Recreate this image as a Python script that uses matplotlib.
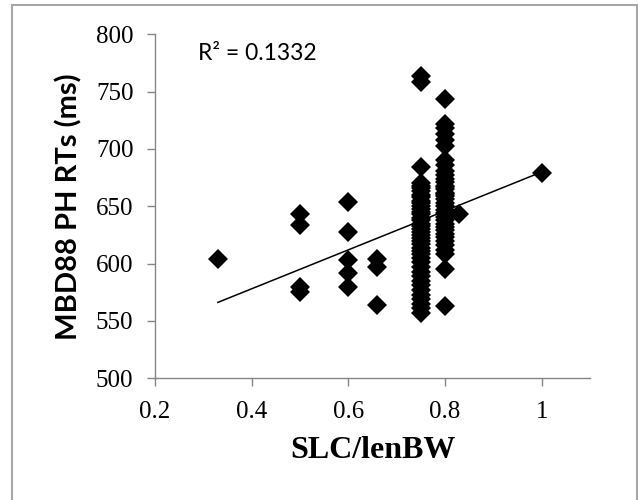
import numpy as np
import matplotlib
matplotlib.use("Agg")
import matplotlib.pyplot as plt
from matplotlib.patches import Rectangle
from matplotlib.ticker import FuncFormatter

# SLC/lenBW values and their RTs
x_033 = [0.33]
y_033 = [604]
x_050 = [0.5] * 4
y_050 = [643, 634, 580, 575]
x_060 = [0.6] * 5
y_060 = [654, 628, 603, 592, 580]
x_066 = [0.66] * 3
y_066 = [604, 597, 564]
y_075 = [764, 758, 684,
         670, 668, 666, 663, 660, 658, 655, 653, 650, 648,
         645, 643, 640, 638, 635, 633, 630, 628, 625, 622,
         620, 617, 614, 611, 608, 605, 601, 597, 593, 589,
         585, 581, 577, 573, 569, 565, 561, 557]
x_075 = [0.75] * len(y_075)
y_080 = [744, 722, 718, 713, 708, 703, 690, 686, 681,
         677, 674, 671, 668, 667, 665, 662, 661, 659, 656, 653, 650,
         647, 644, 641, 638, 635, 632, 629, 626, 623, 620,
         616, 612, 608, 595, 563]
x_080 = [0.8] * len(y_080)
x_083 = [0.83]
y_083 = [643]
x_100 = [1.0]
y_100 = [679]

r2_text = "R² = 0.1332"
xlab = "SLC/lenBW"
ylab = "MBD88 PH RTs (ms)"

x = np.array(x_033 + x_050 + x_060 + x_066 + x_075 + x_080 + x_083 + x_100)
y = np.array(y_033 + y_050 + y_060 + y_066 + y_075 + y_080 + y_083 + y_100)

fig = plt.figure(figsize=(6.38, 5.0), dpi=100)
ax = fig.add_axes([155 / 638, 1 - 378.3 / 500, 435 / 638, 344 / 500])

ax.plot(x, y, linestyle="none", marker="D", markersize=10,
        markerfacecolor="black", markeredgewidth=0, color="black", zorder=2)

# linear trendline
slope, icpt = np.polyfit(x, y, 1)
xs = np.array([x.min(), x.max()])
ax.plot(xs, slope * xs + icpt, color="black", linewidth=1.1, zorder=3)

ax.set_xlim(0.2, 1.1)
ax.set_ylim(500, 800)
ax.set_xticks([0.2, 0.4, 0.6, 0.8, 1.0])
ax.set_yticks(np.arange(500, 801, 50))
ax.xaxis.set_major_formatter(FuncFormatter(lambda v, p: "%g" % v))

for s in ["top", "right"]:
    ax.spines[s].set_visible(False)
for s in ["left", "bottom"]:
    ax.spines[s].set_color("#868686")
    ax.spines[s].set_linewidth(1.0)

ax.tick_params(axis="both", direction="out", length=5.5, width=1.0, color="#868686")
ax.tick_params(axis="y", pad=10)
ax.tick_params(axis="x", pad=11)
for lab in ax.get_xticklabels() + ax.get_yticklabels():
    lab.set_fontfamily("Liberation Serif")
    lab.set_fontsize(18)

ax.set_xlabel(xlab, fontfamily="Liberation Serif", fontweight="bold", fontsize=23)
ax.xaxis.set_label_coords(0.5, -0.21)
ax.xaxis.label.set_va("center")
ax.set_ylabel(ylab, fontfamily="Lato", fontweight="bold", fontsize=21)
ax.yaxis.set_label_coords(-0.198, 0.5)
ax.yaxis.label.set_va("center")

ax.text(198 / 638, 1 - 53.3 / 500, r2_text, transform=fig.transFigure,
        fontfamily="Lato", fontsize=16.5, ha="left", va="center")

# light grey chart border
fig.patches.append(Rectangle((12 / 638, -0.05), 625 / 638, 1.04, transform=fig.transFigure,
                             fill=False, edgecolor="#a6a6a6", linewidth=1.5))

fig.savefig("out.png", dpi=100)
